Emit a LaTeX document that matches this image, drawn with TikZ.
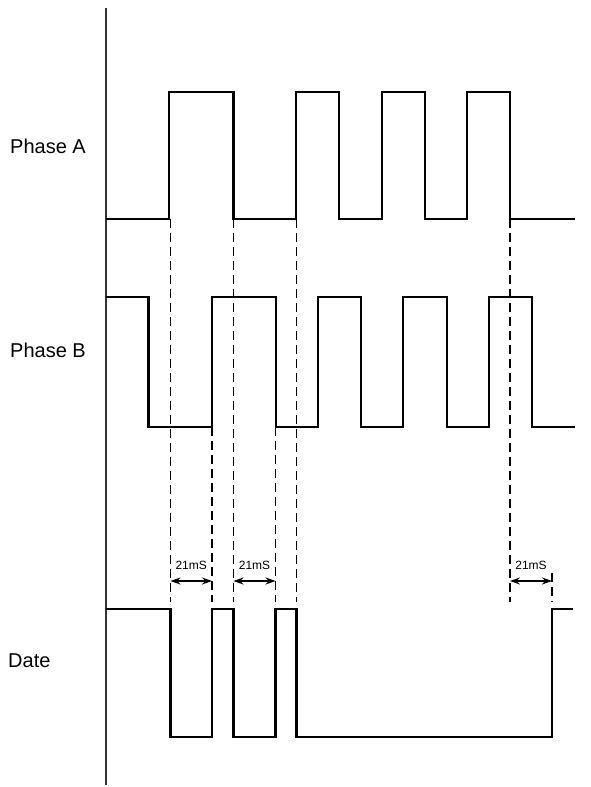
\documentclass[tikz,border=0pt]{standalone}
\usepackage{fontspec}
\setmainfont{Liberation Sans}
\usetikzlibrary{arrows.meta}
\begin{document}
\begin{tikzpicture}[x=1pt,y=-1pt,
  wave/.style={line width=2.1pt,line join=miter},
  axisline/.style={line width=1.8pt,black!80},
  guide/.style={line width=1.5pt,dash pattern=on 9pt off 5pt},
  dimarrow/.style={line width=1.2pt,{Stealth[length=10pt,width=7pt]}-{Stealth[length=10pt,width=7pt]}},
  siglabel/.style={anchor=base west,inner sep=0pt,font=\fontsize{20}{22}\selectfont},
  timelabel/.style={anchor=base,inner sep=0pt,font=\fontsize{12}{14}\selectfont}]
\useasboundingbox (0,0) rectangle (591,787);
% axis
\coordinate (axtop) at (106,8);
\coordinate (axbot) at (106,785);
\draw[axisline] (axtop) -- (axbot);
% labels
\node[siglabel] (la) at (10,153) {Phase A};
\node[siglabel] (lb) at (10,357) {Phase B};
\node[siglabel] (ld) at (8,667) {Date};
% Phase A
\draw[wave] (106,219) -- (169,219) -- (169,92) -- (233.5,92) -- (233.5,219) -- (296,219) -- (296,92)
  -- (339,92) -- (339,219) -- (382,219) -- (382,92) -- (425,92) -- (425,219) -- (467,219) -- (467,92)
  -- (510,92) -- (510,219) -- (575,219);
% Phase B
\draw[wave] (106,297) -- (148.5,297) -- (148.5,427) -- (212,427) -- (212,297) -- (276,297) -- (276,427)
  -- (318,427) -- (318,297) -- (361,297) -- (361,427) -- (403,427) -- (403,297) -- (447,297) -- (447,427)
  -- (489,427) -- (489,297) -- (532,297) -- (532,427) -- (575,427);
% Date
\draw[wave] (106,609) -- (170.5,609) -- (170.5,737) -- (212,737) -- (212,609) -- (233.5,609) -- (233.5,737)
  -- (275.5,737) -- (275.5,609) -- (296.5,609) -- (296.5,737) -- (552,737) -- (552,609) -- (573,609);
% guide lines
\draw[guide] (170.5,219) -- (170.5,602);
\draw[guide] (233.5,219) -- (233.5,602);
\draw[guide] (296.5,219) -- (296.5,602);
\draw[guide] (510,219) -- (510,602);
\draw[guide] (212,427) -- (212,602);
\draw[guide] (275.5,427) -- (275.5,602);
\draw[guide] (552,573) -- (552,602);
% dimension arrows
\coordinate (d1a) at (170.5,581); \coordinate (d1b) at (212,581);
\coordinate (d2a) at (233.5,581); \coordinate (d2b) at (275.5,581);
\coordinate (d3a) at (510,581); \coordinate (d3b) at (552,581);
\draw[dimarrow] (d1a) -- (d1b);
\draw[dimarrow] (d2a) -- (d2b);
\draw[dimarrow] (d3a) -- (d3b);
\node[timelabel] (t1) at (191.2,569.5) {21mS};
\node[timelabel] (t2) at (254.5,569.5) {21mS};
\node[timelabel] (t3) at (531,569.5) {21mS};
\end{tikzpicture}
\end{document}
